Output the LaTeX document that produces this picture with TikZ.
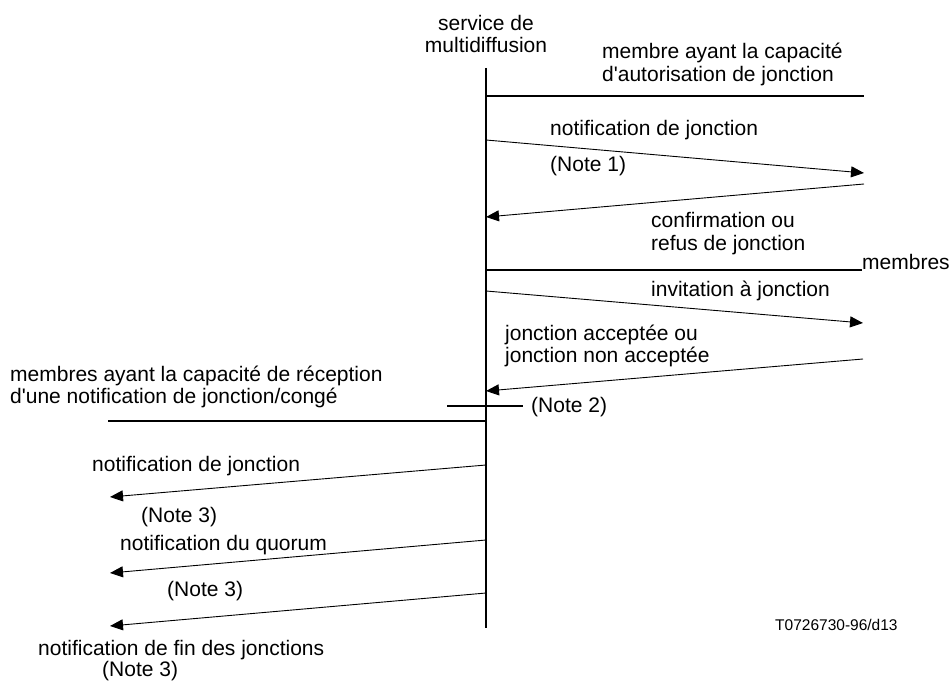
\documentclass[tikz,border=0pt]{standalone}
\usepackage{fontspec}
\setmainfont{Liberation Sans}
\usetikzlibrary{arrows.meta}
\begin{document}
\begin{tikzpicture}[x=1pt,y=-1pt,
  lbl/.style={inner sep=0pt, font=\fontsize{21}{22.5}\selectfont},
  small/.style={inner sep=0pt, font=\fontsize{15.5}{17}\selectfont},
  heavy/.style={line width=2pt},
  msg/.style={line width=0.9pt,-{Triangle[length=13pt,width=11pt]}}]
\useasboundingbox (0,0) rectangle (952,684);
% lifeline
\coordinate (ltop) at (486,68);
\coordinate (lbot) at (486,628);
\draw[heavy] (ltop) -- (lbot);
% header
\node[lbl, align=center] (svc) at (486,34) {service de\\multidiffusion};
\node[lbl, align=left, anchor=west] (auth) at (602,64.5) {membre ayant la capacité\\d\textquotesingle autorisation de jonction};
% first group
\coordinate (h1a) at (486,96);
\coordinate (h1b) at (864,96);
\draw[heavy] (h1a) -- (h1b);
\coordinate (a1s) at (486,140);
\coordinate (a1e) at (864,173);
\draw[msg] (a1s) -- (a1e);
\node[lbl, anchor=base west] (t1) at (550,136) {notification de jonction};
\node[lbl, anchor=base west] (n1) at (550,172) {(Note 1)};
\coordinate (a2s) at (864,184);
\coordinate (a2e) at (486,217);
\draw[msg] (a2s) -- (a2e);
\node[lbl, align=left, anchor=west] (t2) at (651,233.5) {confirmation ou\\refus de jonction};
% members
\node[lbl, anchor=base west] (mem) at (862,270) {membres};
\coordinate (h2a) at (486,270);
\draw[heavy] (h2a) -- (mem.base west);
\coordinate (a3s) at (486,291);
\coordinate (a3e) at (863,323);
\draw[msg] (a3s) -- (a3e);
\node[lbl, anchor=base west] (t3) at (651,297) {invitation à jonction};
\coordinate (a4s) at (863,359);
\coordinate (a4e) at (486,391);
\draw[msg] (a4s) -- (a4e);
\node[lbl, align=left, anchor=west] (t4) at (505,346) {jonction acceptée ou\\jonction non acceptée};
% note 2
\node[lbl, anchor=base west] (n2) at (531,412.5) {(Note 2)};
\coordinate (n2a) at (447,406);
\coordinate (n2b) at (523,406);
\draw[heavy] (n2a) -- (n2b);
% receivers
\node[lbl, align=left, anchor=west] (recv) at (10,387) {membres ayant la capacité de réception\\d\textquotesingle une notification de jonction/congé};
\coordinate (h3a) at (108,421);
\coordinate (h3b) at (486,421);
\draw[heavy] (h3a) -- (h3b);
\coordinate (a5s) at (486,465);
\coordinate (a5e) at (110,497);
\draw[msg] (a5s) -- (a5e);
\node[lbl, anchor=base west] (t5) at (92,471) {notification de jonction};
\node[lbl, anchor=base west] (n3a) at (141,522) {(Note 3)};
\coordinate (a6s) at (486,540);
\coordinate (a6e) at (110,573);
\draw[msg] (a6s) -- (a6e);
\node[lbl, anchor=base west] (t6) at (120,550) {notification du quorum};
\node[lbl, anchor=base west] (n3b) at (167,596) {(Note 3)};
\coordinate (a7s) at (486,593);
\coordinate (a7e) at (110,626);
\draw[msg] (a7s) -- (a7e);
\node[lbl, anchor=base west] (t7) at (38,655) {notification de fin des jonctions};
\node[lbl, anchor=base west] (n3c) at (102,676) {(Note 3)};
% reference
\node[small, anchor=base west] (ref) at (775,630) {T0726730-96/d13};
\end{tikzpicture}
\end{document}
